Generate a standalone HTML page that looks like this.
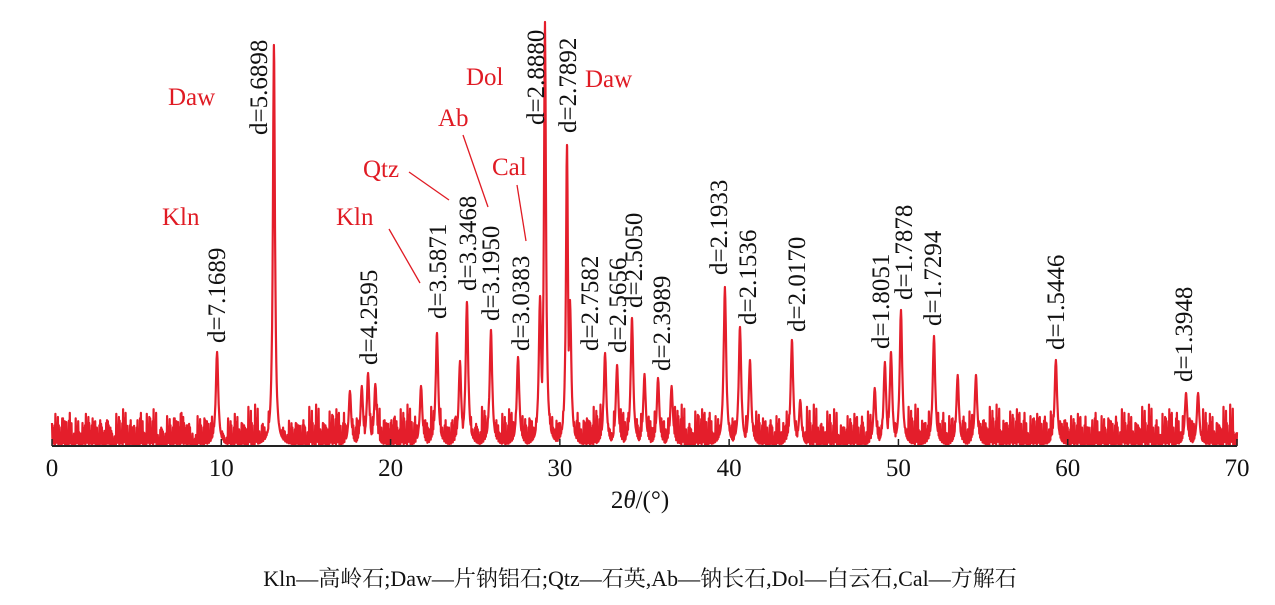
<!DOCTYPE html>
<html><head><meta charset="utf-8">
<style>
html,body{margin:0;padding:0;background:#fff;}
svg{display:block;}
.tk{font-family:"Liberation Serif",serif;font-size:25px;fill:#111;}
.dl{font-family:"Liberation Serif",serif;font-size:25px;fill:#111;}
.ml{font-family:"Liberation Serif",serif;font-size:25px;fill:#e01b24;}
</style></head>
<body>
<svg id="chart" width="1275" height="605" viewBox="0 0 1275 605" xmlns="http://www.w3.org/2000/svg">
<g id="plot"></g>
<g id="axis"></g>
<g id="labels"></g>
<g>
<text class="ml" x="168" y="105">Daw</text>
<text class="ml" x="162" y="225">Kln</text>
<text class="ml" x="336" y="225">Kln</text>
<text class="ml" x="363" y="177">Qtz</text>
<text class="ml" x="438" y="126">Ab</text>
<text class="ml" x="466" y="85">Dol</text>
<text class="ml" x="585" y="87">Daw</text>
<text class="ml" x="492" y="175">Cal</text>
<g stroke="#e01b24" stroke-width="1.3">
<line x1="389" y1="229" x2="420" y2="283"/>
<line x1="409" y1="172" x2="449" y2="200"/>
<line x1="463" y1="135" x2="488" y2="207"/>
<line x1="517" y1="185" x2="526" y2="241"/>
</g>
</g>
<text class="tk" x="640" y="508" text-anchor="middle">2<tspan font-style="italic">θ</tspan>/(°)</text>
<text x="640" y="586" text-anchor="middle" style="font-family:'Liberation Serif','Noto Serif CJK SC',serif;font-size:22px;fill:#111">Kln—高岭石;Daw—片钠铝石;Qtz—石英,Ab—钠长石,Dol—白云石,Cal—方解石</text>
</svg>
<script>
const peakPos = [9.75,13.11,17.6,18.3,18.67,19.1,21.8,22.74,24.1,24.51,25.93,27.53,28.83,29.12,30.42,30.6,32.67,33.38,34.26,35.0,35.8,36.6,39.75,40.64,41.23,43.71,44.2,48.6,49.2,49.56,50.15,52.1,53.5,54.58,59.3,66.99,67.7];
const peakHeight = [94,401,55,60,73,62,60,113,85,144,116,89,150,424,301,146,93,81,128,72,68,60,159,119,86,106,46,58,84,94,136,110,71,71,86,53,53];
const noiseStr = "58364927158463729516384725936481527364958217364825"+"41527364819263748152635472819364758291736482519374"+"68473958267485937268495736284957362849573628495736"+"57384926758493627584936275849362758493627584936275"+"46372815946372815946372819463728154637281946372815"+"57483926574839265748392657483926574839265748392657"+"46372815937264819372648193726481937264819372648193";
const xTicks = [0,10,20,30,40,50,60,70];
const dLabels = ["d=7.1689","d=5.6898","d=4.2595","d=3.5871","d=3.3468","d=3.1950","d=3.0383","d=2.8880","d=2.7892","d=2.7582","d=2.5656","d=2.5050","d=2.3989","d=2.1933","d=2.1536","d=2.0170","d=1.8051","d=1.7878","d=1.7294","d=1.5446","d=1.3948"];
const dLabelAngle = [9.69,12.17,18.67,22.74,24.51,25.87,27.64,28.53,30.42,31.72,33.37,34.32,35.97,39.34,41.05,43.95,48.91,50.27,51.98,59.25,66.81];
const dLabelBase = [343,135,365,319,291,321,351,125,133,351,353,308,371,275,325,332,349,300,326,350,382];

const NS="http://www.w3.org/2000/svg";
const X0=52,X1=1237,Y0=446;
function sx(v){return X0+(v/70)*(X1-X0);}
function sy(h){return Y0-h;}
function mk(tag,attrs,parent){const e=document.createElementNS(NS,tag);for(const k in attrs)e.setAttribute(k,attrs[k]);parent.appendChild(e);return e;}

const subMul=[1,0.25,0.8,0.1,0.6,0.35,0.9,0.05];
let xs=[];
for(let i=0;i<=2800;i++)xs.push(i*0.025);
peakPos.forEach(p=>{xs.push(p);});
xs.sort((a,b)=>a-b);
function noiseAt(x){const i=Math.round(x*40);const j=Math.min(349,Math.floor(i/8));const k=Math.min(349,j+(i%3));const n=(+noiseStr[j]+ +noiseStr[k])*2.3;return n*subMul[i%8];}
function val(x){let v=noiseAt(x);peakPos.forEach((p,k)=>{const w=peakHeight[k]>200?0.16:0.2;const d=(x-p)/w;const pk=peakHeight[k]/(1+d*d*5);if(pk>v)v=pk;});return Math.min(v,430);}
let d="";
xs.forEach((x,i)=>{d+=(i?"L":"M")+sx(x).toFixed(1)+","+sy(val(x)).toFixed(1);});
const plot=document.getElementById('plot');
const line=mk('path',{d:d,fill:'none',stroke:'#e41e2b','stroke-width':2.2,'stroke-linejoin':'round'},plot);



const ax=document.getElementById('axis');
const base=mk('line',{x1:X0,y1:Y0,x2:X1,y2:Y0,stroke:'#222','stroke-width':2},ax);


xTicks.forEach(t=>{
  const tl=mk('line',{x1:sx(t),y1:Y0,x2:sx(t),y2:Y0-7,stroke:'#222','stroke-width':1.5},ax);
  
  
  const tx=mk('text',{x:sx(t),y:Y0+30,'text-anchor':'middle',class:'tk'},ax);
  tx.textContent=t;
  
  
});

const lg=document.getElementById('labels');
dLabels.forEach((s,i)=>{
  const cx=sx(dLabelAngle[i])+9, by=dLabelBase[i];
  const t=mk('text',{x:0,y:0,class:'dl',transform:`translate(${cx},${by}) rotate(-90)`},lg);
  t.textContent=s;
  
  
});
</script>
</body></html>
